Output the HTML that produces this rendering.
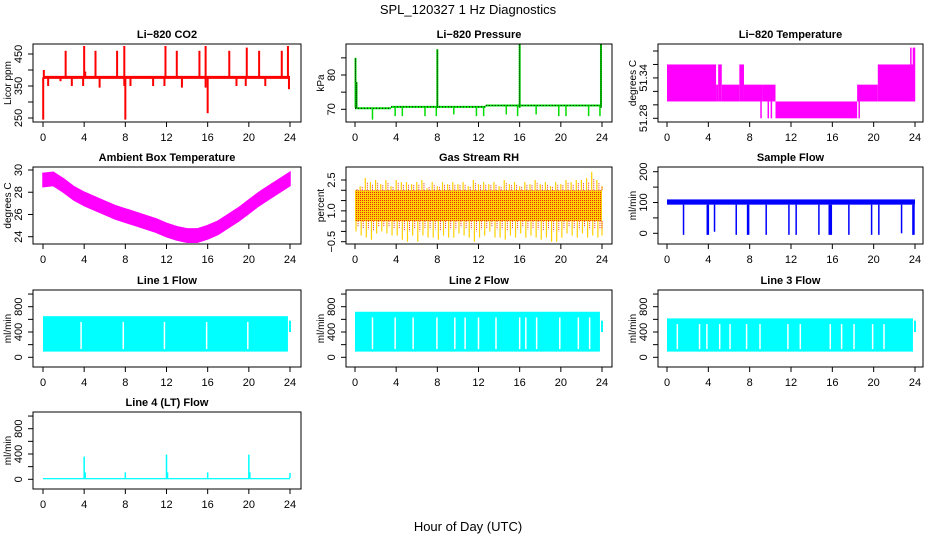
<!DOCTYPE html>
<html><head><meta charset="utf-8"><style>
html,body{margin:0;padding:0;background:#fff;}
svg{display:block;font-family:"Liberation Sans",sans-serif;}
</style></head><body>
<svg id="chart" width="936" height="540" viewBox="0 0 936 540" xmlns="http://www.w3.org/2000/svg">
<defs>
<pattern id="rhpat" width="2" height="2" patternUnits="userSpaceOnUse">
<rect width="2" height="2" fill="#ffd000"/><rect width="1" height="1" fill="#e83010"/>
</pattern>
</defs>
<text x="468" y="14" text-anchor="middle" font-size="13">SPL_120327  1 Hz Diagnostics</text>
<text x="468" y="531" text-anchor="middle" font-size="13">Hour of Day (UTC)</text>
</svg>
<script>
// ---------- data ----------
const xTicks = [0,4,8,12,16,20,24];
// CO2
const co2Base = 377;
const co2SpikeT = [0.02,0.08,2.2,4.0,4.1,5.1,7.2,7.9,8.0,11.9,13.0,15.2,15.8,16.0,18.1,19.8,21.0,23.2,23.8];
const co2SpikeV = [245,400,460,475,395,460,460,475,245,475,460,460,475,265,460,470,460,460,475];
const co2DipT = [0.5,1.7,2.8,3.9,5.5,7.9,8.5,10.7,11.8,13.5,15.8,18.8,19.7,21.6,23.9];
const co2DipV = [350,365,350,350,345,350,350,350,350,345,345,350,350,350,340];
// Pressure
const presStepT = [0,3.5,12.7];
const presStepV = [70.3,70.7,71.1];
const presSpikeT = [0.05,0.15,8.0,16.0,23.9];
const presSpikeV = [85,78,87.5,89,89];
const presDipT = [1.7,3.9,4.6,6.8,7.9,9.6,11.8,12.5,14.7,15.8,17.6,19.8,20.5,22.7,23.8];
const presDipV = [67,68,68,68,68,68.5,68,68,68.5,68,68.5,68,68,68,68];
// Li-820 temperature blocks
const ltStart = [0,4.75,4.95,5.3,7.0,7.45,9.2,10.5,18.4,20.4];
const ltEnd = [4.75,4.95,5.3,7.0,7.45,9.2,10.5,18.4,20.4,24];
const ltLo = [51.305,51.305,51.305,51.305,51.305,51.305,51.305,51.28,51.305,51.305];
const ltHi = [51.36,51.33,51.36,51.33,51.36,51.33,51.33,51.305,51.33,51.36];
const ltLineT = [9.1,9.8,10.1,17.9,18.6,23.6,23.85,23.95];
const ltLineLo = [51.28,51.28,51.28,51.28,51.28,51.305,51.305,51.305];
const ltLineHi = [51.305,51.305,51.305,51.305,51.305,51.385,51.385,51.385];
// Ambient box temperature
const ambT = [0,1,2,3,4,5,6,7,8,9,10,11,12,13,14,15,16,17,18,19,20,21,22,23,24];
const ambV = [29.1,29.2,28.6,27.9,27.4,27.0,26.6,26.2,25.9,25.6,25.3,25.0,24.6,24.3,24.1,24.1,24.4,24.8,25.4,26.0,26.7,27.4,28.0,28.6,29.2];
const ambHalf = 0.6;
// Gas stream RH (every 0.5 h)
const rhCoreLo = 0.5, rhCoreHi = 2.0;
const rhUp = [2.0,2.2,2.6,2.4,2.5,2.3,2.5,2.2,2.5,2.4,2.4,2.3,2.4,2.5,2.1,2.4,2.2,2.4,2.3,2.4,2.3,2.4,2.2,2.5,2.3,2.4,2.3,2.4,2.2,2.5,2.3,2.4,2.2,2.4,2.3,2.5,2.3,2.4,2.2,2.4,2.3,2.5,2.4,2.5,2.5,2.6,2.9,2.5,2.2];
const rhDn = [0.0,-0.2,-0.3,-0.4,-0.1,0.0,-0.1,-0.2,-0.2,-0.4,-0.5,-0.2,-0.5,-0.2,-0.3,-0.3,-0.4,-0.2,-0.3,-0.3,-0.1,-0.2,-0.3,-0.5,-0.3,-0.2,0.0,-0.3,-0.3,-0.4,-0.2,-0.3,-0.1,-0.3,-0.2,-0.3,-0.4,-0.3,-0.5,-0.5,-0.3,-0.1,-0.2,-0.3,-0.1,-0.3,-0.2,-0.3,-0.2];
// Sample flow
const sfLo = 93, sfHi = 110;
const sfDipT = [1.6,3.9,4.0,4.6,6.7,7.8,7.9,9.6,11.8,12.5,14.7,15.7,15.8,15.9,17.6,19.8,20.5,22.7,23.8,23.9];
const sfDipV = [-5,-5,-5,5,-5,-5,-5,-5,-5,-5,-5,-5,-5,-5,-5,-5,-5,0,-5,-5];
// Line flows
const l1Lo = 90, l1Hi = 650;
const l1Gap = [3.7,7.8,11.8,15.9,19.9];
const l2Lo = 90, l2Hi = 720;
const l2Gap = [1.7,3.9,5.65,7.96,9.7,10.7,12.0,13.7,16.0,16.6,17.65,19.9,21.7,22.8];
const l3Lo = 90, l3Hi = 615;
const l3Gap = [1.0,3.15,3.86,5.1,6.1,7.7,9.0,11.7,12.9,15.8,16.9,18.1,19.9,21.0];
const l4Base = 20;
const l4T = [4.0,4.1,8.0,12.0,12.1,16.0,20.0,20.1,24.0];
const l4V = [360,110,110,390,110,110,390,110,100];

// ---------- drawing ----------
const ns = "http://www.w3.org/2000/svg";
const svg = document.getElementById('chart');
function el(tag, attrs, parent){const e=document.createElementNS(ns,tag);for(const k in attrs)e.setAttribute(k,attrs[k]);(parent||svg).appendChild(e);return e;}
const colBox = [[33,301],[346,612],[658,923]];
const colX = [[43,290],[355,602],[667,915]];
const rowTop = [44,167,290,412], rowBot = [122,244,367,489];

function panel(key,title,ylab,col,row,v1,y1,v2,y2,ticks,labels){
  const g = el('g',{});
  
  
  const L=colBox[col][0],R=colBox[col][1],T=rowTop[row],B=rowBot[row];
  const xa=colX[col][0],xb=colX[col][1];
  const X=t=>xa+(xb-xa)*t/24;
  const Y=v=>y1+(v-v1)*(y2-y1)/(v2-v1);
  const data = el('g',{},g);
  
  
  const box = el('rect',{x:L,y:T,width:R-L,height:B-T,fill:'none',stroke:'#000','stroke-width':1},g);
  
  
  const tt = el('text',{x:(L+R)/2,y:T-6,'text-anchor':'middle','font-size':11,'font-weight':'bold'},g);
  tt.textContent=title;
  
  
  const xax = el('g',{},g);
  
  
  el('line',{x1:X(0),x2:X(24),y1:B,y2:B,stroke:'#000'},xax);
  xTicks.forEach(t=>{
    el('line',{x1:X(t),x2:X(t),y1:B,y2:B+5,stroke:'#000'},xax);
    const tx=el('text',{x:X(t),y:B+19,'text-anchor':'middle','font-size':11},xax);
    tx.textContent=t;
    
    
  });
  const yax = el('g',{},g);
  
  
  el('line',{x1:L,x2:L,y1:Y(ticks[0]),y2:Y(ticks[ticks.length-1]),stroke:'#000'},yax);
  ticks.forEach(v=>{el('line',{x1:L-5,x2:L,y1:Y(v),y2:Y(v),stroke:'#000'},yax);});
  labels.forEach(v=>{
    const ty=el('text',{x:0,y:0,'text-anchor':'middle','font-size':11,transform:`translate(${L-11},${Y(parseFloat(String(v).replace('\u2212','-')))}) rotate(-90)`},yax);
    ty.textContent=v;
    
    
  });
  const yl=el('text',{x:0,y:0,'text-anchor':'middle','font-size':10,transform:`translate(${L-22},${(T+B)/2}) rotate(-90)`},g);
  yl.textContent=ylab;
  
  
  return {g:data,X,Y};
}
function vline(p,t,a,b,c,w,extra){const l=el('line',Object.assign({x1:p.X(t),x2:p.X(t),y1:p.Y(a),y2:p.Y(b),stroke:c,'stroke-width':w},extra||{}),p.g);return l;}
function hband(p,t0,t1,lo,hi,c){return el('rect',{x:p.X(t0),y:p.Y(hi),width:p.X(t1)-p.X(t0),height:p.Y(lo)-p.Y(hi),fill:c},p.g);}

// CO2
let p = panel('co2','Li\u2212820 CO2','Licor ppm',0,0,450,54,250,118,[250,300,350,400,450],[250,350,450]);
el('line',{x1:p.X(0),x2:p.X(24),y1:p.Y(co2Base),y2:p.Y(co2Base),stroke:'red','stroke-width':3},p.g);
co2SpikeT.forEach((t,i)=>{vline(p,t,co2Base,co2SpikeV[i],'red',2);});
co2DipT.forEach((t,i)=>{vline(p,t,co2Base,co2DipV[i],'red',2);});

// Pressure
p = panel('pressure','Li\u2212820 Pressure','kPa',1,0,80,75,70,109.3,[70,75,80,85],[70,80]);
presStepT.forEach((t,i)=>{const e=(i+1<presStepT.length)?presStepT[i+1]:24;el('line',{x1:p.X(t),x2:p.X(e),y1:p.Y(presStepV[i]),y2:p.Y(presStepV[i]),stroke:'#00dd00','stroke-width':2},p.g);el('line',{x1:p.X(t),x2:p.X(e),y1:p.Y(presStepV[i]),y2:p.Y(presStepV[i]),stroke:'#000','stroke-width':1,'stroke-dasharray':'1,2'},p.g);});
presDipT.forEach((t,i)=>{vline(p,t,presStepV[t<3.5?0:(t<12.7?1:2)],presDipV[i],'#00dd00',1.5);});
presSpikeT.forEach((t,i)=>{vline(p,t,70.5,presSpikeV[i],'#00dd00',2);vline(p,t,70.5,presSpikeV[i],'#000',1,{'stroke-dasharray':'1,1'});});

// Li-820 temperature
p = panel('li820-temp','Li\u2212820 Temperature','degrees C',2,0,51.28,118.3,51.38,51,[51.28,51.3,51.32,51.34,51.36,51.38],[51.28,51.34]);
ltStart.forEach((t,i)=>{hband(p,t,ltEnd[i],ltLo[i],ltHi[i],'#ff00ff');});
ltLineT.forEach((t,i)=>{vline(p,t,ltLineLo[i],ltLineHi[i],'#ff00ff',1.5);});

// Ambient
p = panel('ambient-temp','Ambient Box Temperature','degrees C',0,1,30,170,24,236.7,[24,26,28,30],[24,26,28,30]);
{let pts=ambT.map((t,i)=>p.X(t)+','+p.Y(ambV[i]+ambHalf));let pts2=ambT.slice().reverse().map((t,j)=>{const i=ambT.length-1-j;return p.X(t)+','+p.Y(ambV[i]-ambHalf);});
el('polygon',{points:pts.concat(pts2).join(' '),fill:'#ff00ff',stroke:'#ff00ff','stroke-width':1.5},p.g);}

// RH
p = panel('gas-rh','Gas Stream RH','percent',1,1,2.5,180,-0.5,241.7,[-0.5,0,0.5,1,1.5,2,2.5],['\u22120.5','1.0','2.5']);
hband(p,0,24,rhCoreLo,rhCoreHi,'url(#rhpat)');
rhUp.forEach((v,i)=>{const t=Math.min(24,i*0.5);vline(p,t,rhCoreHi,v,'#ffd000',1.2);vline(p,Math.min(24,t+0.2),rhCoreHi,(v+rhCoreHi)/2+0.1,'#e83010',1,{'stroke-dasharray':'1,1'});});
rhDn.forEach((v,i)=>{const t=Math.min(24,i*0.5+0.1);vline(p,t,rhCoreLo,v,'#ffd000',1.2);vline(p,Math.min(24,t+0.2),rhCoreLo,(v+rhCoreLo)/2,'#e83010',1,{'stroke-dasharray':'1,1'});});

// Sample flow
p = panel('sample-flow','Sample Flow','ml/min',2,1,200,171.7,0,233.3,[0,50,100,150,200],[0,100,200]);
hband(p,0,24,sfLo,sfHi,'#0000ff');
sfDipT.forEach((t,i)=>{vline(p,t,sfLo,sfDipV[i],'#0000ff',1.5);});

function linePanel(key,title,col,row,lo,hi,gaps){
  const off=(row-2)*122;
  const q = panel(key,title,'ml/min',col,row,800,306.7+off,0,357.3+off,[0,200,400,600,800,1000],[0,400,800]);
  hband(q,0,23.8,lo,hi,'#00ffff');
  vline(q,24,400,580,'#00ffff',2);
  gaps.forEach(t=>{vline(q,t,lo+40,hi-90,'#fff',1.5);});
  return q;
}
linePanel('line1-flow','Line 1 Flow',0,2,l1Lo,l1Hi,l1Gap);
linePanel('line2-flow','Line 2 Flow',1,2,l2Lo,l2Hi,l2Gap);
linePanel('line3-flow','Line 3 Flow',2,2,l3Lo,l3Hi,l3Gap);

p = panel('line4-flow','Line 4 (LT) Flow','ml/min',0,3,800,428.7,0,479.3,[0,200,400,600,800,1000],[0,400,800]);
hband(p,0,24,0,l4Base,'#00ffff');
l4T.forEach((t,i)=>{vline(p,t,l4Base,l4V[i],'#00ffff',1.5);});
</script>
</body></html>
